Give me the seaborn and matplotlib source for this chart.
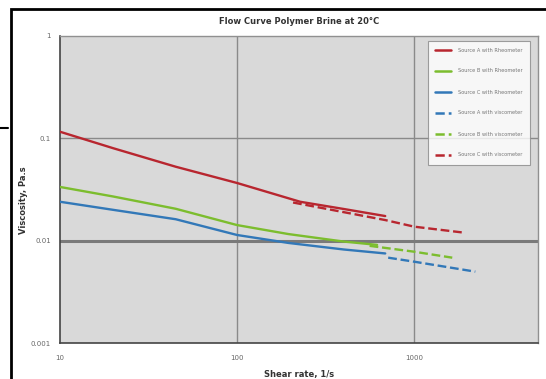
import numpy as np
import pandas as pd
import matplotlib
matplotlib.use("Agg")
import matplotlib.pyplot as plt
from matplotlib.patches import Rectangle
from matplotlib.lines import Line2D
import seaborn as sns

# Data (shear rate 1/s, viscosity Pa.s)
a_rheo_x = [10, 20, 45, 100, 227, 400, 686]
a_rheo_y = [0.116, 0.080, 0.0528, 0.0366, 0.024, 0.0204, 0.0174]
b_rheo_x = [10, 20, 45, 100, 195, 400, 617]
b_rheo_y = [0.0335, 0.027, 0.0205, 0.0142, 0.0116, 0.0098, 0.0091]
c_rheo_x = [10, 20, 45, 100, 195, 400, 686]
c_rheo_y = [0.024, 0.020, 0.0162, 0.01136, 0.0095, 0.0082, 0.0075]

# viscometer series (dashed)
a_visc_x = [713, 1000, 2213]
a_visc_y = [0.00682, 0.00623, 0.00498]
b_visc_x = [560, 1000, 1640]
b_visc_y = [0.0089, 0.0078, 0.00682]
c_visc_x = [207, 686, 1000, 1893]
c_visc_y = [0.0236, 0.0159, 0.0137, 0.012]

labels = ["Source A with Rheometer", "Source B with Rheometer", "Source C with Rheometer",
          "Source A with viscometer", "Source B with viscometer", "Source C with viscometer"]

red = "#b8262f"
green = "#7cbd2e"
blue = "#3278b8"

sns.set_style("white")
plt.rcParams["font.family"] = ["DejaVu Sans"]

fig = plt.figure(figsize=(5.46, 3.79), dpi=100)
ax = fig.add_axes([60/546, 1-343/379, 478/546, 307/379])
ax.set_facecolor("#d9d9d9")

series = [
    (a_rheo_x, a_rheo_y, red, "-"),
    (b_rheo_x, b_rheo_y, green, "-"),
    (c_rheo_x, c_rheo_y, blue, "-"),
    (a_visc_x, a_visc_y, blue, "--"),
    (b_visc_x, b_visc_y, green, "--"),
    (c_visc_x, c_visc_y, red, "--"),
]
handles = []
for (xs, ys, col, ls), lab in zip(series, labels):
    sns.lineplot(x=xs, y=ys, ax=ax, color=col, linestyle=ls, lw=1.7,
                 zorder=3)
    handles.append(Line2D([], [], color=col, linestyle=ls, lw=1.8, label=lab))

ax.set_xscale("log")
ax.set_yscale("log")
ax.set_xlim(10, 5000)
ax.set_ylim(0.001, 1)

ax.set_xticks([10, 100, 1000])
ax.set_xticklabels(["10", "100", "1000"])
ax.set_yticks([0.001, 0.01, 0.1, 1])
ax.set_yticklabels(["0.001", "0.01", "0.1", "1"])
ax.minorticks_off()
ax.tick_params(axis="both", labelsize=5, colors="#666666", length=3, width=0.8)
ax.tick_params(axis="x", pad=6)

for v in [100, 1000]:
    ax.axvline(v, color="#8a8a8a", lw=1.0, zorder=1)
ax.axhline(0.1, color="#8a8a8a", lw=1.0, zorder=1)
ax.axhline(0.01, color="#7a7a7a", lw=2.2, zorder=1)

for side in ["left", "bottom"]:
    ax.spines[side].set_color("#444444")
    ax.spines[side].set_linewidth(1.2)
for side in ["top", "right"]:
    ax.spines[side].set_color("#909090")
    ax.spines[side].set_linewidth(1.0)

ax.set_title("Flow Curve Polymer Brine at 20°C", fontsize=6, fontweight="bold",
             color="#333333", pad=9)
ax.set_xlabel("Shear rate, 1/s", fontsize=6, fontweight="bold", color="#333333", labelpad=6)
ax.set_ylabel("Viscosity, Pa.s", fontsize=6, fontweight="bold", color="#333333")
ax.yaxis.set_label_coords(-0.067, 0.466)

leg = ax.legend(handles=handles, loc="upper left", bbox_to_anchor=(425/546, 1-38/379),
                bbox_transform=fig.transFigure, fontsize=3.6, frameon=True, fancybox=False,
                handlelength=3.2, labelspacing=3.2, borderpad=1.4, handletextpad=1.5,
                labelcolor="#777777")
leg.get_frame().set_facecolor("white")
leg.get_frame().set_edgecolor("#888888")
leg.get_frame().set_linewidth(0.8)

# outer chart frame
fig.add_artist(Rectangle((11/546, -0.1), 1.2, 1-9/379+0.1, transform=fig.transFigure,
                         fill=False, edgecolor="black", lw=2.0, clip_on=False))
fig.add_artist(Line2D([0, 8/546], [1-128/379, 1-128/379], transform=fig.transFigure,
                      color="black", lw=1.5))

fig.savefig("out.png", dpi=100)
